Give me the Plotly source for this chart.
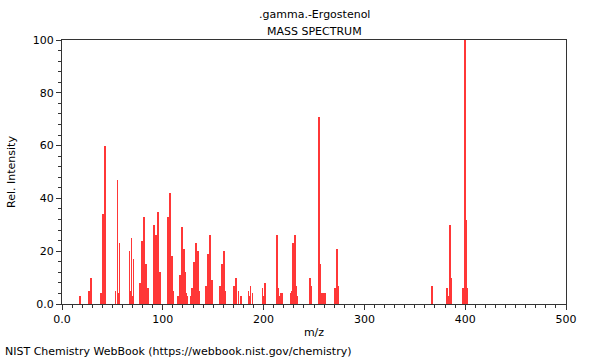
import plotly.graph_objects as go

# m/z values and relative intensities
mz = [18, 27, 28, 29, 39, 41, 42, 43, 53, 55, 56, 57, 67, 68, 69, 70, 71,
      77, 79, 80, 81, 82, 83, 84, 85, 91, 92, 93, 94, 95, 96, 97,
      105, 106, 107, 109, 110, 115, 117, 119, 120, 121, 122, 123, 124,
      128, 129, 131, 132, 133, 134, 135, 136, 143, 145, 146, 147, 148, 149,
      157, 159, 160, 161, 162, 171, 172, 173, 175, 177, 178, 185, 186, 187, 189,
      199, 200, 201, 213, 214, 215, 217, 218, 227, 228, 229, 230, 231, 232, 233,
      246, 247, 255, 256, 257, 259, 261, 271, 272, 273, 274,
      367, 382, 383, 385, 386, 398, 400, 401, 402]
intensity = [3, 5, 3, 10, 4, 34, 4, 60, 5, 47, 4, 23, 20, 5, 25, 3, 17,
             8, 24, 4, 33, 6, 15, 4, 6, 30, 6, 26, 8, 35, 8, 12,
             33, 10, 42, 18, 5, 3, 11, 29, 12, 21, 12, 4, 3,
             3, 6, 16, 8, 23, 13, 20, 5, 7, 19, 6, 26, 6, 9,
             7, 15, 5, 20, 5, 7, 3, 10, 5, 3, 3, 5, 3, 7, 4,
             6, 3, 8, 26, 6, 3, 4, 4, 4, 5, 23, 5, 26, 7, 3,
             10, 7, 71, 15, 4, 4, 4, 6, 4, 21, 7,
             7, 6, 3, 30, 10, 6, 100, 32, 6]

x_ticks = [0, 100, 200, 300, 400, 500]
x_labels = ["0.0", "100", "200", "300", "400", "500"]
y_ticks = [0, 20, 40, 60, 80, 100]
y_labels = ["0.0", "20", "40", "60", "80", "100"]

FONT = "DejaVu Sans"

fig = go.Figure(go.Bar(x=mz, y=intensity, width=0.8,
                       marker=dict(color="rgb(255,55,55)", line=dict(width=0)),
                       hoverinfo="x+y"))

axis_common = dict(showgrid=False, zeroline=False, showline=True, mirror=True,
                   linecolor="#333333", linewidth=1, ticks="outside",
                   tickcolor="#333333", ticklen=5, tickwidth=1,
                   tickfont=dict(family=FONT, size=11, color="#000000"))

fig.update_layout(
    width=600, height=360,
    margin=dict(l=62, r=34, t=40, b=56),
    paper_bgcolor="white", plot_bgcolor="white",
    showlegend=False, bargap=0,
    font=dict(family=FONT, size=11, color="#000000"),
    xaxis=dict(range=[0, 500], tickvals=x_ticks, ticktext=x_labels,
               minor=dict(dtick=10, ticks="outside", ticklen=3, tickcolor="#333333"),
               title=dict(text="m/z", font=dict(family=FONT, size=11), standoff=3),
               **axis_common),
    yaxis=dict(range=[0, 100], tickvals=y_ticks, ticktext=y_labels,
               minor=dict(dtick=4, ticks="outside", ticklen=3, tickcolor="#333333"),
               title=dict(text="Rel. Intensity", font=dict(family=FONT, size=11), standoff=14),
               **axis_common),
    annotations=[
        dict(text=".gamma.-Ergostenol", xref="paper", yref="paper", x=0.5, y=1,
             yshift=34, showarrow=False, font=dict(family=FONT, size=11)),
        dict(text="MASS SPECTRUM", xref="paper", yref="paper", x=0.5, y=1,
             yshift=17, showarrow=False, font=dict(family=FONT, size=11)),
        dict(text="NIST Chemistry WebBook (https://webbook.nist.gov/chemistry)",
             xref="paper", yref="paper", x=0, xanchor="left", xshift=-59,
             y=0, yshift=-56, showarrow=False, font=dict(family=FONT, size=11)),
    ],
)

fig.write_html("out.html", config={"displayModeBar": False},
               post_script="document.body.style.margin='0';document.body.style.padding='0';")
